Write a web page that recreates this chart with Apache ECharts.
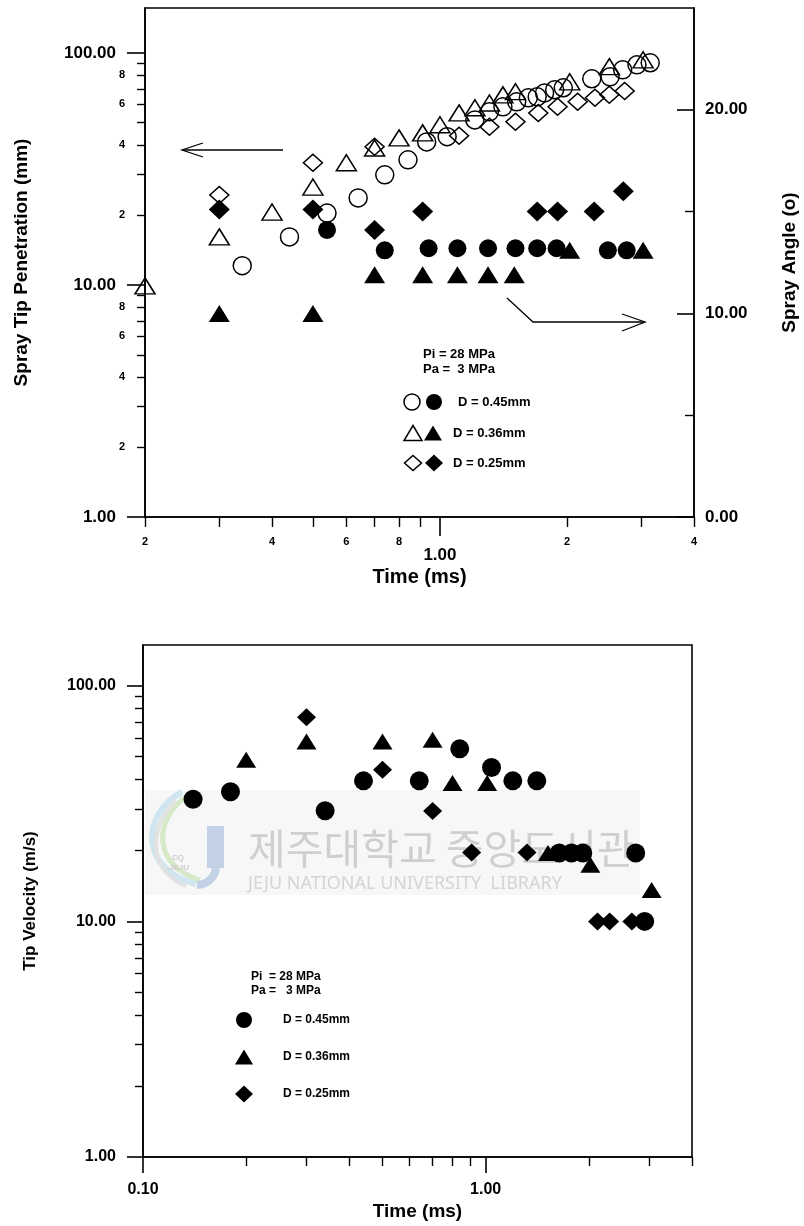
<!DOCTYPE html>
<html>
<head>
<meta charset="utf-8">
<script src="https://cdn.jsdelivr.net/npm/echarts@6/dist/echarts.min.js"></script>
<style>
  html, body { margin: 0; padding: 0; background: #fff; }
  #chart { width: 804px; height: 1226px; }
</style>
</head>
<body>
<div id="chart"></div>
<script>
// ---- Upper plot: spray tip penetration (open symbols, left log axis) ----
const penTime045 = [0.34, 0.44, 0.54, 0.64, 0.74, 0.84, 0.93, 1.04, 1.21, 1.31, 1.41, 1.52, 1.62, 1.70, 1.77, 1.87, 1.96, 2.29, 2.53, 2.71, 2.93, 3.15];
const penVal045  = [12.1, 16.1, 20.4, 23.7, 29.8, 34.6, 41.3, 43.5, 51.4, 55.7, 58.5, 61.5, 64.0, 64.6, 67.2, 69.3, 70.7, 77.3, 78.8, 84.5, 88.8, 90.6];
const penTime036 = [0.2, 0.3, 0.4, 0.5, 0.6, 0.7, 0.8, 0.91, 1.0, 1.11, 1.21, 1.31, 1.41, 1.51, 2.03, 2.52, 3.03];
const penVal036  = [9.9, 16.1, 20.6, 26.4, 33.6, 38.9, 43.0, 45.2, 49.0, 55.1, 58.0, 60.8, 65.9, 68.0, 75.0, 87.2, 93.3];
const penTime025 = [0.3, 0.5, 0.7, 1.11, 1.31, 1.51, 1.71, 1.90, 2.12, 2.33, 2.52, 2.74];
const penVal025  = [24.4, 33.6, 39.4, 43.9, 48.0, 50.5, 55.1, 58.5, 61.5, 64.0, 65.9, 68.5];

// ---- Upper plot: spray angle (filled symbols, right linear axis) ----
const angTime045 = [0.54, 0.74, 0.94, 1.10, 1.30, 1.51, 1.70, 1.89, 2.50, 2.77];
const angVal045  = [14.1, 13.1, 13.2, 13.2, 13.2, 13.2, 13.2, 13.2, 13.1, 13.1];
const angTime036 = [0.3, 0.5, 0.7, 0.91, 1.10, 1.30, 1.50, 2.03, 3.03];
const angVal036  = [10.0, 10.0, 11.9, 11.9, 11.9, 11.9, 11.9, 13.1, 13.1];
const angTime025 = [0.3, 0.5, 0.7, 0.91, 1.70, 1.90, 2.32, 2.72];
const angVal025  = [15.1, 15.1, 14.1, 15.0, 15.0, 15.0, 15.0, 16.0];

// ---- Lower plot: tip velocity (m/s) ----
const velTime045 = [0.14, 0.18, 0.34, 0.44, 0.64, 0.84, 1.04, 1.20, 1.41, 1.64, 1.78, 1.92, 2.74, 2.91];
const velVal045  = [33, 35.5, 29.5, 39.5, 39.5, 54, 45, 39.5, 39.5, 19.5, 19.5, 19.5, 19.5, 10];
const velTime036 = [0.2, 0.3, 0.5, 0.7, 0.8, 1.01, 1.52, 2.02, 3.05];
const velVal036  = [48.5, 58, 58, 59, 38.7, 38.7, 19.5, 17.4, 13.6];
const velTime025 = [0.3, 0.5, 0.7, 0.91, 1.32, 2.12, 2.30, 2.67];
const velVal025  = [73.6, 44, 29.4, 19.6, 19.6, 10, 10, 10];

// ---- Tick positions and tick labels ----
const topXMajorTicks = [1];
const topXMinorTicks = [0.2, 0.3, 0.4, 0.5, 0.6, 0.7, 0.8, 0.9, 2, 3, 4];
const topXLabelVals  = [0.2, 0.4, 0.6, 0.8, 1, 2, 4];
const topXLabelText  = ['2', '4', '6', '8', '1.00', '2', '4'];
const topYMajorTicks = [1, 10, 100];
const topYMinorTicks = [2, 3, 4, 5, 6, 7, 8, 9, 20, 30, 40, 50, 60, 70, 80, 90];
const topYLabelVals  = [1, 2, 4, 6, 8, 10, 20, 40, 60, 80, 100];
const topYLabelText  = ['1.00', '2', '4', '6', '8', '10.00', '2', '4', '6', '8', '100.00'];
const angMajorTicks  = [0, 10, 20];
const angMinorTicks  = [5, 15];
const angLabelText   = ['0.00', '10.00', '20.00'];
const botXMajorTicks = [0.1, 1];
const botXMinorTicks = [0.2, 0.3, 0.4, 0.5, 0.6, 0.7, 0.8, 0.9, 2, 3, 4];
const botXLabelText  = ['0.10', '1.00'];
const botYMajorTicks = [1, 10, 100];
const botYMinorTicks = [2, 3, 4, 5, 6, 7, 8, 9, 20, 30, 40, 50, 60, 70, 80, 90];
const botYLabelText  = ['1.00', '10.00', '100.00'];

const FONT = '"Liberation Sans", Arial, Helvetica, sans-serif';
const INK = '#000';

function pts(xs, ys) { return xs.map((x, i) => [x, ys[i]]); }

// returns a formatter that maps a tick value to its rich-text label
function labeler(values, texts, bigTexts) {
  return function (v) {
    for (let i = 0; i < values.length; i++) {
      if (Math.abs(v - values[i]) <= Math.abs(values[i]) * 1e-6 + 1e-12) {
        const t = texts[i];
        const big = !bigTexts || bigTexts.indexOf(t) >= 0;
        return '{' + (big ? 'b' : 's') + '|' + t + '}';
      }
    }
    return '';
  };
}

const lineStyle = { color: INK, width: 1.6 };

function minorAxis(base, ticks, len, inside) {
  return Object.assign({}, base, {
    name: '',
    axisLine: { show: false },
    axisLabel: { show: false },
    splitLine: { show: false },
    axisTick: { show: true, customValues: ticks, length: len, inside: !!inside, lineStyle: { color: INK, width: 1.4 } }
  });
}

const topXBase = { type: 'log', logBase: 10, gridIndex: 0, min: 0.2, max: 4, position: 'bottom' };
const botXBase = { type: 'log', logBase: 10, gridIndex: 1, min: 0.1, max: 4, position: 'bottom' };
const topYBase = { type: 'log', logBase: 10, gridIndex: 0, min: 1, max: 156, position: 'left' };
const angBase  = { type: 'value', gridIndex: 0, min: 0, max: 25, position: 'right' };
const botYBase = { type: 'log', logBase: 10, gridIndex: 1, min: 1, max: 149, position: 'left' };

const xAxes = [
  Object.assign({}, topXBase, {
    axisLine: { show: true, lineStyle },
    axisTick: { show: true, customValues: topXMajorTicks, length: 19, lineStyle: { color: INK, width: 1.6 } },
    axisLabel: {
      show: true, customValues: topXLabelVals, margin: 19,
      formatter: labeler(topXLabelVals, topXLabelText, ['1.00']),
      rich: {
        s: { fontSize: 11, fontWeight: 'bold', fontFamily: FONT, color: INK },
        b: { fontSize: 17, fontWeight: 'bold', fontFamily: FONT, color: INK, padding: [11, 0, 0, 0] }
      }
    },
    splitLine: { show: false },
    name: 'Time (ms)', nameLocation: 'middle', nameGap: 50, nameMoveOverlap: false,
    nameTextStyle: { fontSize: 20, fontWeight: 'bold', fontFamily: FONT, color: INK }
  }),
  minorAxis(topXBase, topXMinorTicks, 10),
  Object.assign({}, botXBase, {
    axisLine: { show: true, lineStyle },
    axisTick: { show: true, customValues: botXMajorTicks, length: 16, lineStyle: { color: INK, width: 1.6 } },
    axisLabel: {
      show: true, customValues: botXMajorTicks, margin: 25,
      formatter: labeler(botXMajorTicks, botXLabelText),
      rich: { b: { fontSize: 16, fontWeight: 'bold', fontFamily: FONT, color: INK } }
    },
    splitLine: { show: false },
    name: 'Time (ms)', nameLocation: 'middle', nameGap: 45, nameMoveOverlap: false,
    nameTextStyle: { fontSize: 19, fontWeight: 'bold', fontFamily: FONT, color: INK }
  }),
  minorAxis(botXBase, botXMinorTicks, 9)
];

const yAxes = [
  Object.assign({}, topYBase, {
    axisLine: { show: true, lineStyle },
    axisTick: { show: true, customValues: topYMajorTicks, length: 18, lineStyle: { color: INK, width: 1.6 } },
    axisLabel: {
      show: true, customValues: topYLabelVals, margin: 20,
      formatter: labeler(topYLabelVals, topYLabelText, ['1.00', '10.00', '100.00']),
      rich: {
        s: { fontSize: 11, fontWeight: 'bold', fontFamily: FONT, color: INK },
        b: { fontSize: 17, fontWeight: 'bold', fontFamily: FONT, color: INK, padding: [0, 9, 0, 0] }
      }
    },
    splitLine: { show: false },
    name: 'Spray Tip Penetration (mm)', nameLocation: 'middle', nameGap: 114, nameRotate: 90, nameMoveOverlap: false,
    nameTextStyle: { fontSize: 19, fontWeight: 'bold', fontFamily: FONT, color: INK }
  }),
  minorAxis(topYBase, topYMinorTicks, 8),
  Object.assign({}, angBase, {
    axisLine: { show: true, lineStyle },
    axisTick: { show: true, customValues: angMajorTicks, length: 17, inside: true, lineStyle: { color: INK, width: 1.6 } },
    axisLabel: {
      show: true, customValues: angMajorTicks, margin: 11,
      formatter: labeler(angMajorTicks, angLabelText),
      rich: { b: { fontSize: 17, fontWeight: 'bold', fontFamily: FONT, color: INK } }
    },
    splitLine: { show: false },
    name: 'Spray Angle (o)', nameLocation: 'middle', nameGap: 86, nameRotate: 90, nameMoveOverlap: false,
    nameTextStyle: { fontSize: 19, fontWeight: 'bold', fontFamily: FONT, color: INK }
  }),
  minorAxis(angBase, angMinorTicks, 9, true),
  Object.assign({}, botYBase, {
    axisLine: { show: true, lineStyle },
    axisTick: { show: true, customValues: botYMajorTicks, length: 16, lineStyle: { color: INK, width: 1.6 } },
    axisLabel: {
      show: true, customValues: botYMajorTicks, margin: 27,
      formatter: labeler(botYMajorTicks, botYLabelText),
      rich: { b: { fontSize: 16, fontWeight: 'bold', fontFamily: FONT, color: INK } }
    },
    splitLine: { show: false },
    name: 'Tip Velocity (m/s)', nameLocation: 'middle', nameGap: 104, nameRotate: 90, nameMoveOverlap: false,
    nameTextStyle: { fontSize: 17, fontWeight: 'bold', fontFamily: FONT, color: INK }
  }),
  minorAxis(botYBase, botYMinorTicks, 8)
];

const openStyle = { color: 'rgba(0,0,0,0)', borderColor: INK, borderWidth: 1.5, opacity: 1 };
const fillStyle = { color: INK, borderWidth: 0, opacity: 1 };

function sc(name, xi, yi, xs, ys, symbol, size, style) {
  return {
    type: 'scatter', name, xAxisIndex: xi, yAxisIndex: yi,
    data: pts(xs, ys), symbol, symbolSize: size, itemStyle: style,
    clip: false, z: 3, emphasis: { disabled: true }
  };
}

const series = [
  sc('D = 0.45mm penetration', 0, 0, penTime045, penVal045, 'circle', 18, openStyle),
  sc('D = 0.36mm penetration', 0, 0, penTime036, penVal036, 'triangle', [20, 16], openStyle),
  sc('D = 0.25mm penetration', 0, 0, penTime025, penVal025, 'diamond', [19, 17], openStyle),
  sc('D = 0.45mm angle', 0, 2, angTime045, angVal045, 'circle', 18, fillStyle),
  sc('D = 0.36mm angle', 0, 2, angTime036, angVal036, 'triangle', [21, 17], fillStyle),
  sc('D = 0.25mm angle', 0, 2, angTime025, angVal025, 'diamond', [21, 20], fillStyle),
  sc('D = 0.45mm', 2, 4, velTime045, velVal045, 'circle', 19, fillStyle),
  sc('D = 0.36mm', 2, 4, velTime036, velVal036, 'triangle', [20, 16], fillStyle),
  sc('D = 0.25mm', 2, 4, velTime025, velVal025, 'diamond', [19, 18], fillStyle)
];

// ---- Legend blocks, arrows and library stamp ----
const LEG = 'bold 13px ' + FONT;
const LEG2 = 'bold 12px ' + FONT;
function txt(x, y, s, font, fill, z) {
  return { type: 'text', x, y, z: z || 10, style: { text: s, font, fill: fill || INK, verticalAlign: 'middle', align: 'left' } };
}
function circ(cx, cy, r, filled) {
  return { type: 'circle', z: 10, shape: { cx, cy, r }, style: filled ? { fill: INK } : { fill: 'none', stroke: INK, lineWidth: 1.5 } };
}
function tri(cx, cy, w, h, filled) {
  return { type: 'polygon', z: 10, shape: { points: [[cx, cy - h / 2], [cx + w / 2, cy + h / 2], [cx - w / 2, cy + h / 2]] },
    style: filled ? { fill: INK } : { fill: 'none', stroke: INK, lineWidth: 1.5 } };
}
function dia(cx, cy, w, h, filled) {
  return { type: 'polygon', z: 10, shape: { points: [[cx, cy - h / 2], [cx + w / 2, cy], [cx, cy + h / 2], [cx - w / 2, cy]] },
    style: filled ? { fill: INK } : { fill: 'none', stroke: INK, lineWidth: 1.5 } };
}
function pline(points) {
  return { type: 'polyline', z: 10, shape: { points }, style: { stroke: INK, lineWidth: 1.3, fill: 'none' } };
}

const graphics = [
  // library stamp behind the lower plot
  { type: 'rect', z: 0, shape: { x: 145, y: 790, width: 495, height: 105 }, style: { fill: '#f7f7f7' } },
  { type: 'bezierCurve', z: 1, shape: { x1: 182, y1: 792, cpx1: 140, cpy1: 815, cpx2: 140, cpy2: 870, x2: 196, y2: 884 }, style: { stroke: '#cfe6f0', lineWidth: 6, fill: 'none' } },
  { type: 'bezierCurve', z: 1, shape: { x1: 190, y1: 794, cpx1: 152, cpy1: 818, cpx2: 152, cpy2: 866, x2: 200, y2: 880 }, style: { stroke: '#d6e9c8', lineWidth: 5, fill: 'none' } },
  { type: 'bezierCurve', z: 1, shape: { x1: 176, y1: 800, cpx1: 146, cpy1: 830, cpx2: 150, cpy2: 872, x2: 186, y2: 886 }, style: { stroke: '#e2e2e2', lineWidth: 4, fill: 'none' } },
  { type: 'rect', z: 1, shape: { x: 207, y: 826, width: 17, height: 42 }, style: { fill: '#c3d1e6' } },
  { type: 'arc', z: 1, shape: { cx: 197, cy: 866, r: 19, startAngle: 0, endAngle: Math.PI / 2 }, style: { stroke: '#c3d1e6', lineWidth: 8, fill: 'none' } },
  txt(172, 858, 'CQ', 'bold 8px ' + FONT, '#cccccc', 1),
  txt(169, 868, 'JEJU', 'bold 8px ' + FONT, '#cccccc', 1),
  txt(248, 848, '제주대학교 중앙도서관', '41px "Noto Sans CJK KR"', '#cfcfcf', 1),
  txt(248, 884, 'JEJU NATIONAL UNIVERSITY  LIBRARY', '18px "Noto Sans", "DejaVu Sans", sans-serif', '#d4d4d4', 1),

  // upper plot legend
  txt(423, 354, 'Pi = 28 MPa', LEG),
  txt(423, 369, 'Pa =  3 MPa', LEG),
  circ(412, 402, 8, false), circ(434, 402, 8, true),
  txt(458, 402, 'D = 0.45mm', LEG),
  tri(413, 433, 18, 15, false), tri(433, 433, 18, 15, true),
  txt(453, 433, 'D = 0.36mm', LEG),
  dia(413, 463, 17, 15, false), dia(434, 463, 18, 17, true),
  txt(453, 463, 'D = 0.25mm', LEG),

  // arrows pointing at the axis each set belongs to
  pline([[283, 150], [182, 150]]),
  pline([[203, 143], [182, 150], [203, 157]]),
  pline([[507, 298], [533, 322], [645, 322]]),
  pline([[622, 314], [645, 322], [622, 331]]),

  // lower plot legend
  txt(251, 977, 'Pi  = 28 MPa', LEG2),
  txt(251, 991, 'Pa =   3 MPa', LEG2),
  circ(244, 1020, 8, true),
  txt(283, 1020, 'D = 0.45mm', LEG2),
  tri(244, 1057, 18, 15, true),
  txt(283, 1057, 'D = 0.36mm', LEG2),
  dia(244, 1094, 18, 17, true),
  txt(283, 1094, 'D = 0.25mm', LEG2)
];

const chart = echarts.init(document.getElementById('chart'), null, { renderer: 'canvas' });
chart.setOption({
  animation: false,
  backgroundColor: '#fff',
  grid: [
    { left: 145, top: 8, width: 549, height: 509, show: true, borderColor: INK, borderWidth: 1.6, backgroundColor: 'rgba(0,0,0,0)', containLabel: false, outerBoundsMode: 'none' },
    { left: 143, top: 645, width: 549, height: 512, show: true, borderColor: INK, borderWidth: 1.6, backgroundColor: 'rgba(0,0,0,0)', containLabel: false, outerBoundsMode: 'none' }
  ],
  xAxis: xAxes,
  yAxis: yAxes,
  series,
  graphic: { elements: graphics }
});
</script>
</body>
</html>
